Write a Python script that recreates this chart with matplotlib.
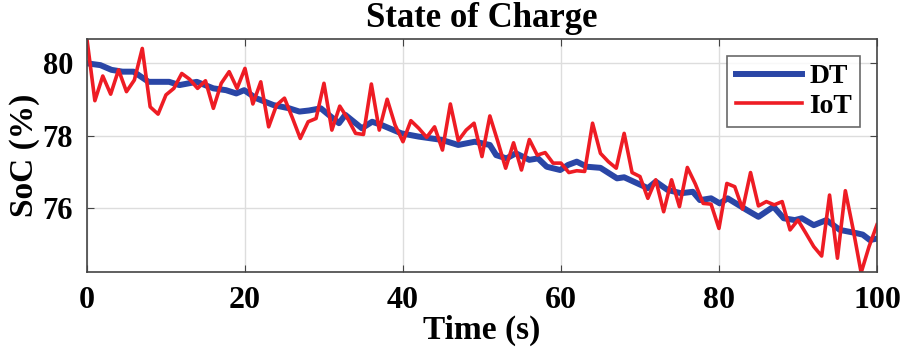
import matplotlib
matplotlib.use("Agg")
import matplotlib.pyplot as plt

# IoT measurements, one sample per second
iot_time = list(range(0, 101))
iot_soc = [
    80.66, 78.97, 79.65, 79.15, 79.82, 79.22, 79.54, 80.41, 78.80, 78.60,
    79.13, 79.31, 79.72, 79.56, 79.31, 79.52, 78.76, 79.45, 79.77, 79.31,
    79.86, 78.88, 79.49, 78.25, 78.85, 79.04, 78.50, 77.93, 78.39, 78.48,
    79.45, 78.16, 78.82, 78.48, 78.07, 78.04, 79.43, 78.16, 79.01, 78.30,
    77.84, 78.42, 78.21, 77.96, 78.25, 77.61, 78.88, 77.87, 78.16, 78.35,
    77.43, 78.55, 77.85, 77.11, 77.81, 77.06, 77.90, 77.47, 77.54, 77.25,
    77.25, 76.99, 77.04, 77.02, 78.35, 77.52, 77.29, 77.11, 78.07, 76.99,
    76.88, 76.28, 76.79, 75.91, 76.79, 76.05, 77.13, 76.68, 76.14, 76.12,
    75.45, 76.69, 76.60, 75.98, 76.99, 76.07, 76.19, 76.10, 76.19, 75.41,
    75.68, 75.32, 74.95, 74.69, 76.37, 74.63, 76.49, 75.41, 74.23, 74.95,
    75.55,
]

# digital twin estimate
dt_time = [0, 1.7, 3.1, 4.5, 5.9, 7.8, 10.4, 11.7, 13.9, 16,
           17.6, 18.9, 19.9, 21.4, 23.6, 25.6, 26.9, 28.1, 29.6, 30.6,
           31.9, 32.7, 34.8, 36.1, 37.3, 39.8, 42, 44.9, 47, 49.1,
           51, 51.8, 53.1, 54.3, 56, 57.1, 58.2, 59.9, 60.9, 62,
           63.3, 65, 67.1, 68, 69.7, 71, 72, 73.5, 75.2, 76.7,
           77.6, 79, 80.1, 81.1, 83.5, 85, 86.9, 88.2, 89.6, 90.5,
           92, 93.6, 95.3, 97.4, 98.2, 99.1, 100]
dt_soc = [80.00, 79.95, 79.82, 79.77, 79.77, 79.49, 79.49, 79.40, 79.49, 79.31,
          79.26, 79.17, 79.26, 79.04, 78.85, 78.76, 78.67, 78.70, 78.76, 78.58,
          78.35, 78.58, 78.21, 78.39, 78.30, 78.07, 77.98, 77.89, 77.75, 77.84,
          77.75, 77.47, 77.38, 77.52, 77.34, 77.38, 77.15, 77.06, 77.20, 77.29,
          77.15, 77.12, 76.83, 76.86, 76.69, 76.56, 76.74, 76.51, 76.42, 76.46,
          76.23, 76.28, 76.14, 76.28, 75.96, 75.77, 76.05, 75.73, 75.68, 75.73,
          75.54, 75.68, 75.41, 75.32, 75.28, 75.13, 75.17]

x_ticks = [0, 20, 40, 60, 80, 100]
y_ticks = [76, 78, 80]

plt.rcParams['font.family'] = ['Liberation Serif', 'DejaVu Serif']
plt.rcParams['font.weight'] = 'bold'

fig = plt.figure(figsize=(9.05, 3.53), dpi=100)
ax = fig.add_axes([0.0961, 0.2295, 0.8729, 0.66])

ax.plot(dt_time, dt_soc, color='#2a46a6', lw=4.3, label='DT', solid_joinstyle='round')
ax.plot(iot_time, iot_soc, color='#ee1c24', lw=2.6, label='IoT')

ax.set_xlim(0, 100)
ax.set_ylim(74.25, 80.67)
ax.set_xticks(x_ticks)
ax.set_yticks(y_ticks)
ax.grid(True, color='#dddddd', lw=1)
ax.set_axisbelow(True)
ax.tick_params(axis='x', labelsize=23)
ax.tick_params(axis='y', labelsize=22)
ax.tick_params(direction='in', top=True, right=True, length=5,
               color='#444444', pad=10)
for lab in ax.get_xticklabels() + ax.get_yticklabels():
    lab.set_fontweight('bold')
for sp in ax.spines.values():
    sp.set_color('#444444')
    sp.set_linewidth(1.2)

ax.set_title('State of Charge', fontsize=25, fontweight='bold', pad=9)
ax.set_xlabel('Time (s)', fontsize=24, fontweight='bold', labelpad=0)
ax.set_ylabel('SoC (%)', fontsize=24, fontweight='bold', labelpad=2)

leg = ax.legend(loc='upper right', fontsize=20, frameon=True, fancybox=False,
                edgecolor='#444444', handlelength=2.4, borderaxespad=0.6,
                handletextpad=0.25, labelspacing=0.15, borderpad=0.3)
leg.get_frame().set_linewidth(1.2)
for t in leg.get_texts():
    t.set_fontweight('bold')

fig.savefig('out.png', dpi=100)
